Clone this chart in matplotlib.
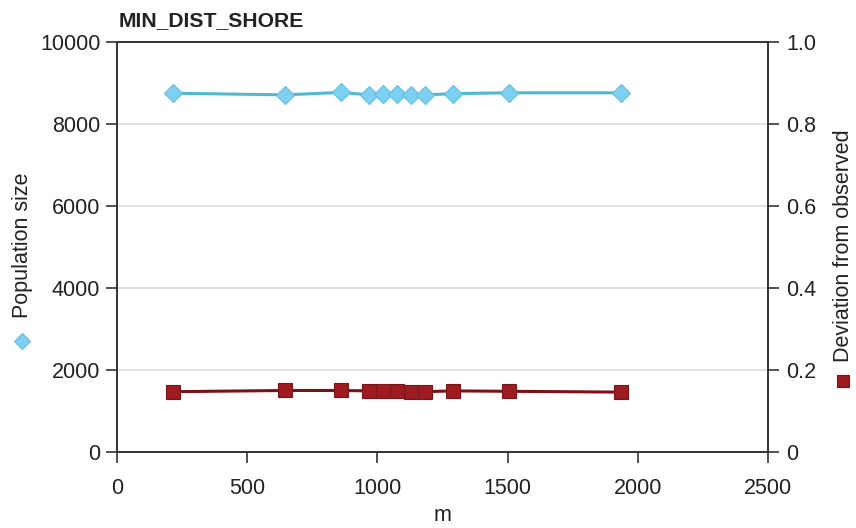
#!/usr/bin/env python3
"""Population size and deviation from observed against MIN_DIST_SHORE (m)."""

import matplotlib

matplotlib.use("Agg")
import matplotlib.pyplot as plt
from matplotlib.lines import Line2D

# values
dist_m = [215, 645, 860, 968, 1022, 1075, 1129, 1183, 1290, 1505, 1935]
pop_size = [8750, 8710, 8770, 8710, 8720, 8740, 8710, 8710, 8740, 8760, 8760]
deviation = [0.147, 0.150, 0.150, 0.149, 0.148, 0.148, 0.147, 0.147, 0.149, 0.148, 0.146]

x_ticks = [0, 500, 1000, 1500, 2000, 2500]
left_ticks = [0, 2000, 4000, 6000, 8000, 10000]
right_ticks = [0, 0.2, 0.4, 0.6, 0.8, 1.0]
right_labels = ["0", "0.2", "0.4", "0.6", "0.8", "1.0"]

CYAN_LINE = "#4fb9d3"
CYAN_FILL = "#7dd0f2"
RED_LINE = "#7d1117"
RED_FILL = "#9d1c22"
AX_COL = "#333333"

plt.rcParams["font.family"] = ["Liberation Sans", "DejaVu Sans"]
plt.rcParams["font.size"] = 15.5

fig = plt.figure(figsize=(8.56, 5.28), dpi=100)
ax = fig.add_axes([0.1367, 0.144, 0.7603, 0.7765])
ax2 = ax.twinx()

ax.plot(dist_m, pop_size, color=CYAN_LINE, lw=2.2, marker="D", ms=9.5,
        mfc=CYAN_FILL, mec="#5cc2e2", mew=0.8, zorder=3)
ax2.plot(dist_m, deviation, color=RED_LINE, lw=2.2, marker="s", ms=10,
         mfc=RED_FILL, mec="#7a1418", mew=0.8, zorder=3)

ax.set_xlim(0, 2500)
ax.set_ylim(0, 10000)
ax2.set_ylim(0, 1.0)
ax.set_xticks(x_ticks)
ax.set_yticks(left_ticks)
ax2.set_yticks(right_ticks)
ax2.set_yticklabels(right_labels)

ax.grid(axis="y", color="#dcdcdc", lw=1.2)
ax.set_axisbelow(True)

for a in (ax, ax2):
    for s in a.spines.values():
        s.set_color(AX_COL)
        s.set_linewidth(1.2)
    a.tick_params(colors=AX_COL, labelcolor="#222222", width=1.2, length=8)
ax.tick_params(axis="y", pad=4)
ax.tick_params(axis="x", pad=11)
ax2.tick_params(axis="y", pad=5)

ax.set_xlabel("m", labelpad=4, color="#222222")

fig.text(0.139, 0.962, "MIN_DIST_SHORE", fontweight="bold", fontsize=15.2,
         ha="left", va="center", color="#222222")

# rotated axis titles with their legend markers
fig.text(0.026, 0.535, "Population size", rotation=90, ha="center", va="center",
         color="#222222")
fig.add_artist(Line2D([0.026], [1 - 341 / 528], marker="D", ms=8, color=CYAN_FILL,
                      mec="#5cc2e2", mew=0.8, transform=fig.transFigure))
fig.text(0.985, 0.535, "Deviation from observed", rotation=90, ha="center",
         va="center", color="#222222")
fig.add_artist(Line2D([0.985], [1 - 381 / 528], marker="s", ms=9, color=RED_FILL,
                      mec="#7a1418", mew=0.8, transform=fig.transFigure))

fig.savefig("out.png", dpi=100)
